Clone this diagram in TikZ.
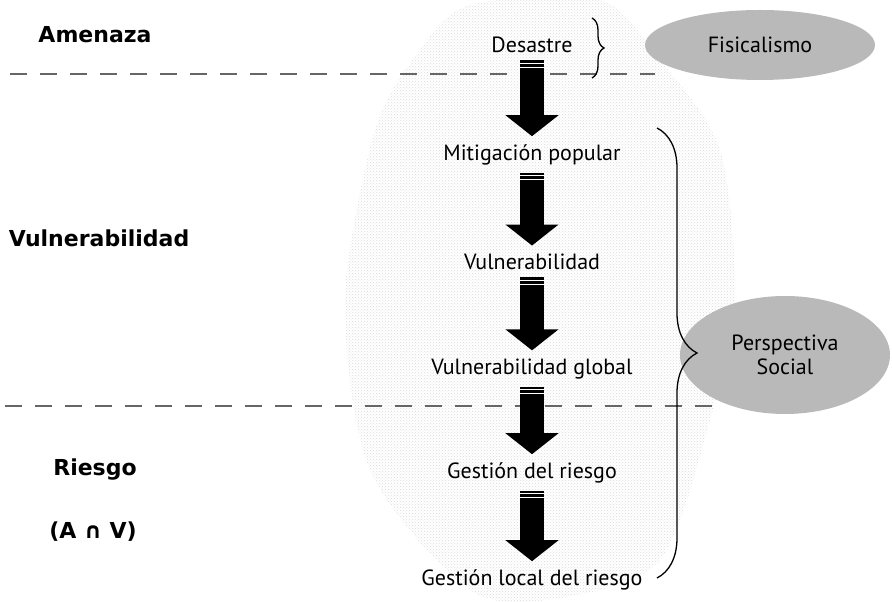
\documentclass[tikz,border=0pt]{standalone}
\usepackage{fontspec}
\setmainfont{PT Sans}
\newfontfamily\levelfont{DejaVu Sans}
\usetikzlibrary{arrows.meta,decorations.pathreplacing,patterns,shapes.geometric}
\begin{document}
\begin{tikzpicture}[x=1pt,y=1pt,
    every node/.style={font=\fontsize{22}{24}\selectfont},
    level/.style={font=\levelfont\fontsize{22}{25}\selectfont\bfseries},
    cloud/.style={ellipse,fill=gray!55,inner sep=0pt,align=center},
    bigarrow/.style={line width=24pt,-{Triangle[width=52pt,length=21pt]},shorten <=4pt,shorten >=5pt},
    stripe/.style={white,line width=1.2pt},
    cut/.style={black!60,line width=2.2pt,dash pattern=on 17pt off 13pt},
    bracket/.style={decorate,decoration={brace,amplitude=#1},line width=1.3pt}]
    \useasboundingbox (0,0) rectangle (892,602);
    \fill[pattern=crosshatch dots,pattern color=gray!28] plot[smooth cycle] coordinates {(470,597) (600,602) (660,542) (720,452) (735,302) (710,182) (660,42) (560,4) (470,12) (370,132) (345,302) (375,472) (420,552)};
    \node[level] (amen) at (95,567) {Amenaza};
    \node[level] (vlab) at (99,364) {Vulnerabilidad};
    \node[level] (rie)  at (95,132) {Riesgo};
    \node[level] (av)   at (93,70)  {(A ∩ V)};
    \draw[cut] (10,528) -- (655,528);
    \draw[cut] (5,196) -- (720,196);
    \node (des) at (532,557) {Desastre};
    \node (mit) at (532,447) {Mitigación popular};
    \node (vul) at (532,340) {Vulnerabilidad};
    \node (glo) at (532,233) {Vulnerabilidad global};
    \node (ges) at (532,129) {Gestión del riesgo};
    \node (loc) at (532,22)  {Gestión local del riesgo};
    \foreach \a/\b in {des/mit,mit/vul,vul/glo,glo/ges,ges/loc} {
        \draw[bigarrow] (\a) -- (\b);
        \draw[stripe] ([xshift=-13pt,yshift=-7pt]\a.south) -- ++(26,0);
        \draw[stripe] ([xshift=-13pt,yshift=-11pt]\a.south) -- ++(26,0);
    }
    \node[cloud,minimum width=230pt,minimum height=70pt] (fis) at (760,557) {Fisicalismo};
    \node[cloud,minimum width=210pt,minimum height=118pt] (per) at (785,247) {Perspectiva\\Social};
    \draw[bracket=12pt] (592,584) -- (592,524);
    \draw[bracket=40pt] (657,474) -- (657,24);
\end{tikzpicture}
\end{document}
